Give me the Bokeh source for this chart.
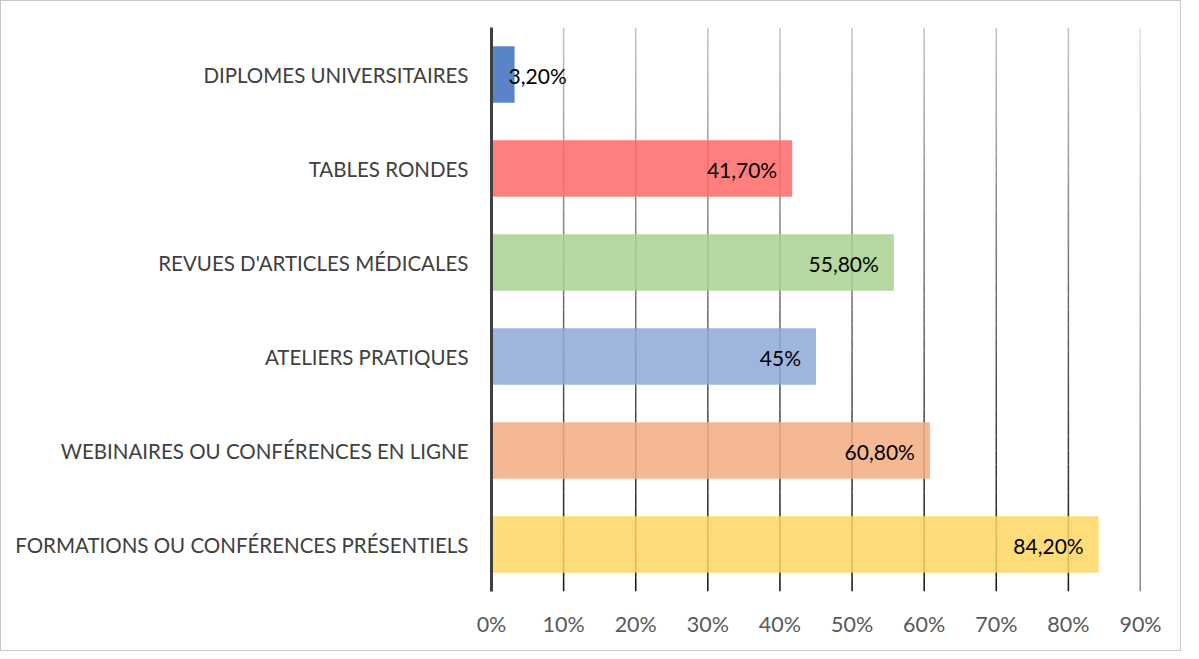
from bokeh.plotting import figure
from bokeh.models import ColumnDataSource, Range1d, FixedTicker, CustomJSTickFormatter
from bokeh.core.properties import value
from bokeh.embed import file_html
from bokeh.resources import INLINE

# ---- data ----
categories = [
    "FORMATIONS OU CONFÉRENCES PRÉSENTIELS",
    "WEBINAIRES OU CONFÉRENCES EN LIGNE",
    "ATELIERS PRATIQUES",
    "REVUES D'ARTICLES MÉDICALES",
    "TABLES RONDES",
    "DIPLOMES UNIVERSITAIRES",
]
percentages = [84.2, 60.8, 45.0, 55.8, 41.7, 3.2]
value_labels = ["84,20%", "60,80%", "45%", "55,80%", "41,70%", "3,20%"]
x_ticks = [0, 10, 20, 30, 40, 50, 60, 70, 80, 90]

observed_colors = ["#ffdc7a", "#f4b994", "#9fb5de", "#b5d7a0", "#ff7f7f", "#5a84c8"]
ALPHA = 0.85


def unblend(hx):
    r, g, b = (int(hx[i:i + 2], 16) for i in (1, 3, 5))
    f = lambda c: max(0, min(255, round((c - (1 - ALPHA) * 255) / ALPHA)))
    return "#%02x%02x%02x" % (f(r), f(g), f(b))


FONT = "Lato"
ypos = [i + 0.5 for i in range(len(categories))]

src = ColumnDataSource(dict(
    y=ypos,
    v=percentages,
    lab=value_labels,
    color=[unblend(c) for c in observed_colors],
    align=["left" if v < 10 else "right" for v in percentages],
    xoff=[-6 if v < 10 else -15 for v in percentages],
))

p = figure(width=1181, height=651, output_backend="svg", toolbar_location=None,
           x_range=Range1d(0, 90), y_range=Range1d(0, len(categories)),
           min_border_left=490, min_border_right=42, min_border_top=26, min_border_bottom=61)
p.outline_line_color = None
p.background_fill_color = "white"
p.border_fill_color = "white"
p.styles = {"border": "1px solid #c8c8c8"}

p.xgrid.grid_line_color = None
p.ygrid.grid_line_color = None

# gradient grid lines (light at top, dark at bottom)
N = 40
gx0, gy0, gy1, gcol = [], [], [], []
top = len(categories)
for t in x_ticks[1:]:
    for k in range(N):
        ya = top - k * top / N
        yb = top - (k + 1) * top / N
        frac = (k + 0.5) / N
        c = round(195 - frac * 180)
        gx0.append(t)
        gy0.append(ya)
        gy1.append(yb)
        gcol.append("#%02x%02x%02x" % (c, c, c))
p.segment(x0=gx0, y0=gy0, x1=gx0, y1=gy1, line_color=gcol, line_width=1.5)

p.hbar(y="y", left=0, right="v", height=0.6, source=src, fill_color="color",
       fill_alpha=ALPHA, line_color=None)

p.text(x="v", y="y", text="lab", source=src, text_align="align", x_offset="xoff",
       text_baseline="middle", y_offset=1, text_font=value(FONT), text_font_size="21px",
       text_color="#000000")

# x axis
p.xaxis.ticker = FixedTicker(ticks=x_ticks)
p.xaxis.formatter = CustomJSTickFormatter(code="return tick + '%';")
p.xaxis.axis_line_color = None
p.xaxis.major_tick_line_color = None
p.xaxis.minor_tick_line_color = None
p.xaxis.major_label_standoff = 13
p.xaxis.major_label_text_font = FONT
p.xaxis.major_label_text_font_size = "21.5px"
p.xaxis.major_label_text_color = "#595959"

# y axis
p.yaxis.ticker = FixedTicker(ticks=ypos)
p.yaxis.major_label_overrides = {y: c for y, c in zip(ypos, categories)}
p.yaxis.axis_line_color = "#404040"
p.yaxis.axis_line_width = 3
p.yaxis.major_tick_line_color = None
p.yaxis.minor_tick_line_color = None
p.yaxis.major_label_standoff = 17
p.yaxis.major_label_text_font = FONT
p.yaxis.major_label_text_font_size = "20.5px"
p.yaxis.major_label_text_color = "#404040"

open("out.html", "w").write(file_html(p, INLINE))
